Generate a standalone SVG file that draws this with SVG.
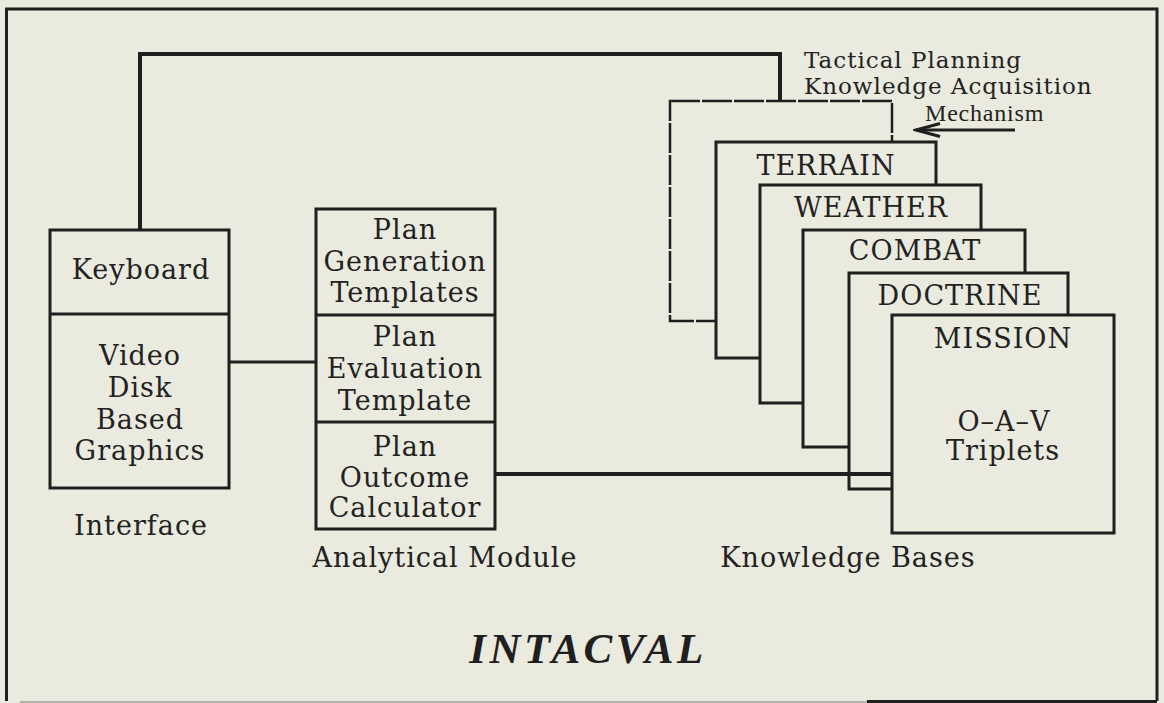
<svg xmlns="http://www.w3.org/2000/svg" width="1164" height="703" viewBox="0 0 1164 703">
  <defs>
    <style>
      .bg { fill: #eaeadf; }
      .box { fill: #eaeadf; stroke: #1f1f1f; stroke-width: 3; }
      .dash { fill: #eaeadf; stroke: #1f1f1f; stroke-width: 2.5; stroke-dasharray: 30 2; }
      .wire { fill: none; stroke: #1f1f1f; stroke-width: 4; }
      .thin { fill: none; stroke: #1f1f1f; stroke-width: 3; }
      .lbl { font-family: "DejaVu Serif", "Liberation Serif", serif; font-size: 27px; letter-spacing: 1px; fill: #222; text-anchor: middle; }
      .note { font-family: "DejaVu Serif", "Liberation Serif", serif; font-size: 23px; letter-spacing: 1px; fill: #222; }
      .mech { font-family: "Liberation Serif", serif; font-size: 24px; letter-spacing: 0.8px; fill: #222; }
      .title { font-family: "Liberation Serif", serif; font-size: 43px; font-weight: bold; font-style: italic; letter-spacing: 3.5px; fill: #1f1f1f; text-anchor: middle; }
    </style>
    <!-- open arrowhead: tip at the path end, barbs trailing behind -->
    <marker id="openArrow" viewBox="0 0 30 20" refX="27" refY="10" markerWidth="30" markerHeight="20" markerUnits="userSpaceOnUse" orient="auto">
      <path d="M3 3.5 L27 10 L3 16.5" fill="none" stroke="#1f1f1f" stroke-width="3.2" stroke-linejoin="miter"/>
    </marker>
  </defs>

  <!-- page and frame -->
  <rect class="bg" x="0" y="0" width="1164" height="703"/>
  <path d="M6.5 701 V9 H1157 V701" fill="none" stroke="#1f1f1f" stroke-width="3"/>
  <path d="M20 702 H867" fill="none" stroke="#a2a29c" stroke-width="1.5"/>
  <path d="M867 701.5 H1157" fill="none" stroke="#1f1f1f" stroke-width="3"/>

  <!-- Interface -->
  <g id="interface">
    <rect class="box" x="50" y="230" width="179" height="258"/>
    <line x1="50" y1="314" x2="229" y2="314" stroke="#1f1f1f" stroke-width="3"/>
    <text class="lbl" x="141" y="279">Keyboard</text>
    <text class="lbl" x="140" y="365">Video</text>
    <text class="lbl" x="140" y="397">Disk</text>
    <text class="lbl" x="140" y="429">Based</text>
    <text class="lbl" x="140" y="460">Graphics</text>
    <text class="lbl" x="141" y="535">Interface</text>
  </g>

  <!-- Analytical Module -->
  <g id="analytical-module">
    <rect class="box" x="316" y="209" width="179" height="320"/>
    <line x1="316" y1="315" x2="495" y2="315" stroke="#1f1f1f" stroke-width="3"/>
    <line x1="316" y1="422" x2="495" y2="422" stroke="#1f1f1f" stroke-width="3"/>
    <text class="lbl" x="405" y="239">Plan</text>
    <text class="lbl" x="405" y="271">Generation</text>
    <text class="lbl" x="405" y="302">Templates</text>
    <text class="lbl" x="405" y="346">Plan</text>
    <text class="lbl" x="405" y="378">Evaluation</text>
    <text class="lbl" x="405" y="410">Template</text>
    <text class="lbl" x="405" y="456">Plan</text>
    <text class="lbl" x="405" y="487">Outcome</text>
    <text class="lbl" x="405" y="517">Calculator</text>
    <text class="lbl" x="445" y="567">Analytical Module</text>
  </g>

  <!-- Knowledge bases, stacked back to front -->
  <g id="acquisition-mechanism">
    <rect class="dash" x="670" y="101" width="222" height="220"/>
    <text class="note" x="804" y="68">Tactical Planning</text>
    <text class="note" x="804" y="94">Knowledge Acquisition</text>
    <text class="mech" x="925" y="121">Mechanism</text>
  </g>
  <g id="kb-terrain">
    <rect class="box" x="716" y="142" width="220" height="216"/>
    <text class="lbl" x="826" y="175">TERRAIN</text>
  </g>
  <g id="kb-weather">
    <rect class="box" x="760" y="185" width="221" height="218"/>
    <text class="lbl" x="871" y="217">WEATHER</text>
  </g>
  <g id="kb-combat">
    <rect class="box" x="803" y="230" width="222" height="217"/>
    <text class="lbl" x="915" y="260">COMBAT</text>
  </g>
  <g id="kb-doctrine">
    <rect class="box" x="849" y="273" width="219" height="216"/>
    <text class="lbl" x="960" y="305">DOCTRINE</text>
  </g>
  <g id="kb-mission">
    <rect class="box" x="892" y="315" width="222" height="218"/>
    <text class="lbl" x="1003" y="348">MISSION</text>
    <text class="lbl" x="1004" y="431">O–A–V</text>
    <text class="lbl" x="1003" y="460">Triplets</text>
  </g>
  <g id="kb-caption">
    <text class="lbl" x="848" y="567">Knowledge Bases</text>
  </g>

  <!-- connectors -->
  <g id="connectors">
    <path class="wire" d="M140 230 V54 H780 V101"/>
    <path class="thin" d="M229 362 H316"/>
    <path class="wire" d="M495 474 H892"/>
    <path class="thin" d="M1015 130 H916" marker-end="url(#openArrow)"/>
  </g>

  <!-- system name -->
  <text class="title" x="588" y="663">INTACVAL</text>
</svg>
